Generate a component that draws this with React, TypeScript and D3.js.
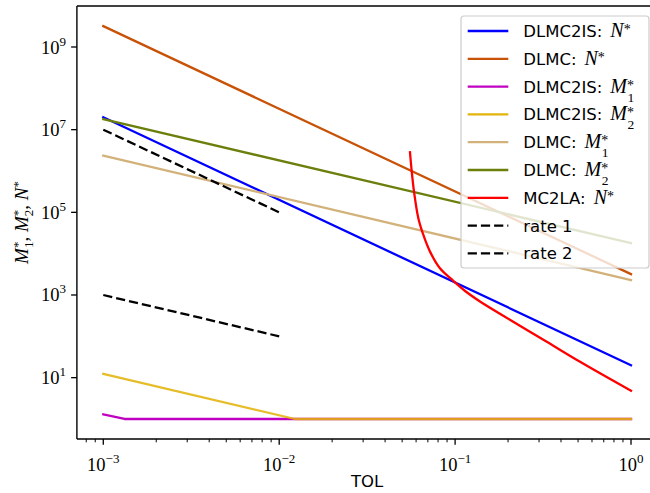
import React from "react";
import * as d3 from "d3";

// ---- data ----
const TOL_ENDS = [1e-3, 1];
const DLMC2IS_N = [2.0e7, 20];
const DLMC_N = [3.2e9, 3.2e3];
const DLMC_M1 = [2.35e6, 2.3e3];
const DLMC_M2 = [1.8e7, 1.8e4];
const DLMC2IS_M1_TOL = [1e-3, 1.32e-3, 1];
const DLMC2IS_M1 = [1.3, 1, 1];
const DLMC2IS_M2_TOL = [1e-3, 1.23e-2, 1];
const DLMC2IS_M2 = [12.3, 1, 1];
const MC2LA_TOL = [0.0554, 0.0567, 0.0584, 0.0618, 0.066, 0.072, 0.082, 0.0977, 0.114, 0.1385, 0.214, 0.332, 0.513, 1.0];
const MC2LA_N = [2.84e6, 9.6e5, 3.16e5, 7.2e4, 2.83e4, 1.12e4, 4.43e3, 2.2e3, 1.25e3, 698, 226, 74, 24.3, 4.84];
const RATE_TOL = [1e-3, 1e-2];
const RATE1 = [1e7, 1e5];
const RATE2 = [1e3, 1e2];

const X_TICKS = [1e-3, 1e-2, 1e-1, 1];
const X_TICK_EXP = ["\u22123", "\u22122", "\u22121", "0"];
const Y_TICKS = [1e1, 1e3, 1e5, 1e7, 1e9];
const Y_TICK_EXP = ["1", "3", "5", "7", "9"];

type Series = { name: string; sym: string; sub?: string; color: string; tol: number[]; vals: number[]; dash?: boolean; smooth?: boolean; opacity?: number };

const SERIES: Series[] = [
  { name: "DLMC2IS:", sym: "N", color: "#0000ff", tol: TOL_ENDS, vals: DLMC2IS_N },
  { name: "DLMC:", sym: "N", color: "#c85208", tol: TOL_ENDS, vals: DLMC_N },
  { name: "DLMC2IS:", sym: "M", sub: "1", color: "#c000c0", tol: DLMC2IS_M1_TOL, vals: DLMC2IS_M1 },
  { name: "DLMC2IS:", sym: "M", sub: "2", color: "#e2b40a", tol: DLMC2IS_M2_TOL, vals: DLMC2IS_M2, opacity: 0.88 },
  { name: "DLMC:", sym: "M", sub: "1", color: "#d2b27a", tol: TOL_ENDS, vals: DLMC_M1 },
  { name: "DLMC:", sym: "M", sub: "2", color: "#6b7f0c", tol: TOL_ENDS, vals: DLMC_M2 },
  { name: "MC2LA:", sym: "N", color: "#ff0000", tol: MC2LA_TOL, vals: MC2LA_N, smooth: true },
  { name: "rate 1", sym: "", color: "#000000", tol: RATE_TOL, vals: RATE1, dash: true },
  { name: "rate 2", sym: "", color: "#000000", tol: RATE_TOL, vals: RATE2, dash: true },
];

const W = 650;
const H = 493;
const LEFT = 76.9;
const RIGHT = 657.4;
const TOP = 6;
const BOTTOM = 439;

const SANS = "DejaVu Sans, sans-serif";
const SERIF = "Liberation Serif, DejaVu Serif, serif";

export default function App() {
  const x = d3.scaleLog().domain([Math.pow(10, -3.15), Math.pow(10, 0.15)]).range([LEFT, RIGHT]);
  const y = d3.scaleLog().domain([Math.pow(10, -0.484), Math.pow(10, 9.992)]).range([BOTTOM, TOP]);

  const minorX: number[] = [];
  for (let e = -4; e <= 0; e++) {
    for (let m = 2; m <= 9; m++) {
      const v = m * Math.pow(10, e);
      const px = x(v);
      if (px >= LEFT && px <= W) minorX.push(v);
    }
  }

  const lineFor = (s: Series) => {
    const pts = s.tol.map((t, i) => [t, s.vals[i]] as [number, number]);
    const gen = d3
      .line<[number, number]>()
      .x((d) => x(d[0]))
      .y((d) => y(d[1]));
    if (s.smooth) gen.curve(d3.curveCatmullRom.alpha(0.5));
    return gen(pts) || "";
  };

  const legX = 461;
  const legY = 16;
  const legW = 188;
  const legH = 252;
  const rowY0 = 31;
  const rowStep = 27.8;

  const mathLabel = (sym: string, sub?: string) => {
    if (!sym) return null;
    const els = [
      <tspan key="s" fontFamily={SERIF} fontStyle="italic" fontSize={20} dx={8}>{sym}</tspan>,
      <tspan key="st" fontFamily={SERIF} fontSize={14} dy={-3}>*</tspan>,
    ];
    if (sub) {
      els.push(
        <tspan key="sb" fontFamily={SERIF} fontSize={13.5} dx={-6.5} dy={12}>{sub}</tspan>
      );
    }
    return els;
  };

  return (
    <div style={{ position: "absolute", left: 0, top: 0 }}>
      <svg width={W} height={H} style={{ display: "block", background: "#fff" }}>
        <defs>
          <clipPath id="plotclip">
            <rect x={LEFT} y={TOP} width={RIGHT - LEFT} height={BOTTOM - TOP} />
          </clipPath>
        </defs>
        <rect x={0} y={0} width={W} height={H} fill="#fff" />

        {/* data lines */}
        <g clipPath="url(#plotclip)">
          {SERIES.map((s, i) => (
            <path
              key={i}
              d={lineFor(s)}
              fill="none"
              stroke={s.color}
              strokeWidth={2.3}
              strokeOpacity={s.opacity ?? 1}
              strokeDasharray={s.dash ? "9.2,4" : undefined}
              strokeLinecap={s.dash ? "butt" : "square"}
              strokeLinejoin="round"
            />
          ))}
        </g>

        {/* axes frame */}
        <g stroke="#000" strokeWidth={1.4} fill="none">
          <line x1={LEFT} y1={TOP} x2={LEFT} y2={BOTTOM} />
          <line x1={LEFT} y1={BOTTOM} x2={RIGHT} y2={BOTTOM} />
          <line x1={LEFT} y1={TOP} x2={RIGHT} y2={TOP} />
          <line x1={RIGHT} y1={TOP} x2={RIGHT} y2={BOTTOM} />
        </g>

        {/* ticks */}
        <g stroke="#000" strokeWidth={1.3}>
          {X_TICKS.map((t, i) => (
            <line key={"xm" + i} x1={x(t)} x2={x(t)} y1={BOTTOM} y2={BOTTOM + 5.8} />
          ))}
          {minorX.map((t, i) => (
            <line key={"xn" + i} x1={x(t)} x2={x(t)} y1={BOTTOM} y2={BOTTOM + 3.3} strokeWidth={1} />
          ))}
          {Y_TICKS.map((t, i) => (
            <line key={"ym" + i} x1={LEFT - 5.8} x2={LEFT} y1={y(t)} y2={y(t)} />
          ))}
        </g>

        {/* x tick labels */}
        {X_TICKS.map((t, i) => (
          <text key={"xl" + i} x={x(t)} y={470.5} textAnchor="middle" fontFamily={SERIF} fontSize={18.5} fill="#000">
            <tspan>10</tspan>
            <tspan fontSize={13} dy={-8}>{X_TICK_EXP[i]}</tspan>
          </text>
        ))}

        {/* y tick labels */}
        {Y_TICKS.map((t, i) => (
          <text key={"yl" + i} x={66} y={y(t) + 6.5} textAnchor="end" fontFamily={SERIF} fontSize={18.5} fill="#000">
            <tspan>10</tspan>
            <tspan fontSize={13} dy={-8}>{Y_TICK_EXP[i]}</tspan>
          </text>
        ))}

        {/* axis labels */}
        <text x={(LEFT + RIGHT) / 2} y={487} textAnchor="middle" fontFamily={SANS} fontSize={16.5} fill="#000">
          TOL
        </text>
        <text transform={`translate(28, ${(TOP + BOTTOM) / 2}) rotate(-90)`} textAnchor="middle" fontFamily={SERIF} fontSize={19} fill="#000">
          <tspan fontStyle="italic">M</tspan>
          <tspan fontSize={13} dy={-6}>*</tspan>
          <tspan fontSize={13} dx={-6.5} dy={11}>1</tspan>
          <tspan dy={-5}>, </tspan>
          <tspan fontStyle="italic">M</tspan>
          <tspan fontSize={13} dy={-6}>*</tspan>
          <tspan fontSize={13} dx={-6.5} dy={11}>2</tspan>
          <tspan dy={-5}>, </tspan>
          <tspan fontStyle="italic">N</tspan>
          <tspan fontSize={13} dy={-6}>*</tspan>
        </text>

        {/* legend */}
        <g>
          <rect x={legX} y={legY} width={legW} height={legH} rx={3} ry={3} fill="#fff" fillOpacity={0.8} stroke="#cccccc" strokeWidth={1.2} />
          {SERIES.map((s, i) => {
            const ry = rowY0 + i * rowStep;
            return (
              <g key={"lg" + i}>
                <line
                  x1={467.7}
                  x2={508.3}
                  y1={ry}
                  y2={ry}
                  stroke={s.color}
                  strokeWidth={2.3}
                  strokeDasharray={s.dash ? "9.2,4" : undefined}
                />
                <text x={523.3} y={ry + 6} fontFamily={SANS} fontSize={16.5} fill="#000" style={{ whiteSpace: "pre" }}>
                  <tspan>{s.name}</tspan>
                  {mathLabel(s.sym, s.sub)}
                </text>
              </g>
            );
          })}
        </g>
      </svg>
    </div>
  );
}
